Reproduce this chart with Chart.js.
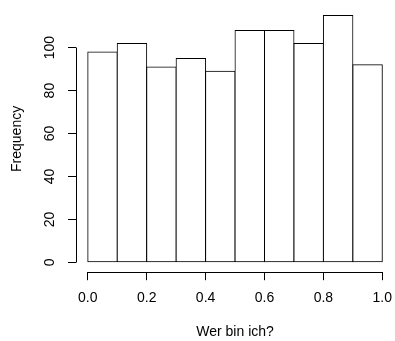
<!DOCTYPE html>
<html>
<head>
<meta charset="utf-8">
<script src="https://cdn.jsdelivr.net/npm/chart.js@4/dist/chart.umd.min.js"></script>
<style>
  html, body { margin: 0; padding: 0; background: #fff; }
  #wrap { width: 395px; height: 341px; }
</style>
</head>
<body>
<div id="wrap"><canvas id="hist" width="395" height="341"></canvas></div>
<script>
const binEdges = [0, 0.1, 0.2, 0.3, 0.4, 0.5, 0.6, 0.7, 0.8, 0.9, 1.0]
const counts = [98, 102, 91, 95, 89, 108, 108, 102, 115, 92]
const xTicks = [0, 0.2, 0.4, 0.6, 0.8, 1.0]
const yTicks = [0, 20, 40, 60, 80, 100]

const font = { family: "'Liberation Sans', Arial, Helvetica, sans-serif", size: 14 }

// one point per bin, sitting in the middle of its edges
const points = counts.map((c, i) => ({ x: (binEdges[i] + binEdges[i + 1]) / 2, y: c }))

// R style: 4% extra on each side of the data range
const xLo = binEdges[0], xHi = binEdges[binEdges.length - 1]
const yHi = Math.max(...counts)
const xPad = (xHi - xLo) * 0.04, yPad = yHi * 0.04

const crisp = v => Math.round(v - 0.5) + 0.5

// axis lines only go from first to last tick, like base R
const rAxes = {
  id: 'rAxes',
  afterDraw(chart) {
    const { ctx, chartArea, scales: { x, y } } = chart
    ctx.save()
    ctx.strokeStyle = '#000'
    ctx.lineWidth = 1
    ctx.beginPath()
    const by = crisp(chartArea.bottom)
    ctx.moveTo(crisp(x.getPixelForValue(xTicks[0])), by)
    ctx.lineTo(crisp(x.getPixelForValue(xTicks[xTicks.length - 1])), by)
    const lx = crisp(chartArea.left)
    ctx.moveTo(lx, crisp(y.getPixelForValue(yTicks[0])))
    ctx.lineTo(lx, crisp(y.getPixelForValue(yTicks[yTicks.length - 1])))
    ctx.stroke()
    ctx.restore()
  }
}

new Chart(document.getElementById('hist'), {
  type: 'bar',
  data: {
    datasets: [{
      data: points,
      backgroundColor: '#ffffff',
      borderColor: '#000000',
      borderWidth: 1,
      inflateAmount: 0.5,
      borderSkipped: false,
      barPercentage: 1,
      categoryPercentage: 1
    }]
  },
  options: {
    responsive: false,
    animation: false,
    layout: { padding: { top: 5.6, right: 0.9, bottom: 0, left: 0 } },
    plugins: { legend: { display: false }, tooltip: { enabled: false } },
    scales: {
      x: {
        type: 'linear',
        offset: false,
        min: xLo - xPad,
        max: xHi + xPad,
        afterBuildTicks: s => { s.ticks = xTicks.map(v => ({ value: v })) },
        afterFit: s => { s.height = 68.8; s.paddingLeft = 0; s.paddingRight = 0 },
        border: { display: false },
        grid: { offset: false, drawOnChartArea: false, drawTicks: true, tickLength: 8, color: '#000' },
        ticks: { color: '#000', font: font, padding: 9.9, maxRotation: 0, callback: v => Number(v).toFixed(1) },
        title: { display: true, text: 'Wer bin ich?', color: '#000', font: font, padding: { top: 0, bottom: 0.6 } }
      },
      y: {
        min: -yPad,
        max: yHi + yPad,
        afterBuildTicks: s => { s.ticks = yTicks.map(v => ({ value: v })) },
        afterFit: s => { s.width = 76; s.paddingTop = 0; s.paddingBottom = 0 },
        border: { display: false },
        grid: { drawOnChartArea: false, drawTicks: true, tickLength: 8, color: '#000' },
        ticks: { color: '#000', font: font, padding: 6.3, minRotation: 90, maxRotation: 90, crossAlign: 'center' },
        title: { display: true, text: 'Frequency', color: '#000', font: font, padding: { top: 8.3, bottom: 0 } }
      }
    }
  },
  plugins: [rAxes]
})
</script>
</body>
</html>
